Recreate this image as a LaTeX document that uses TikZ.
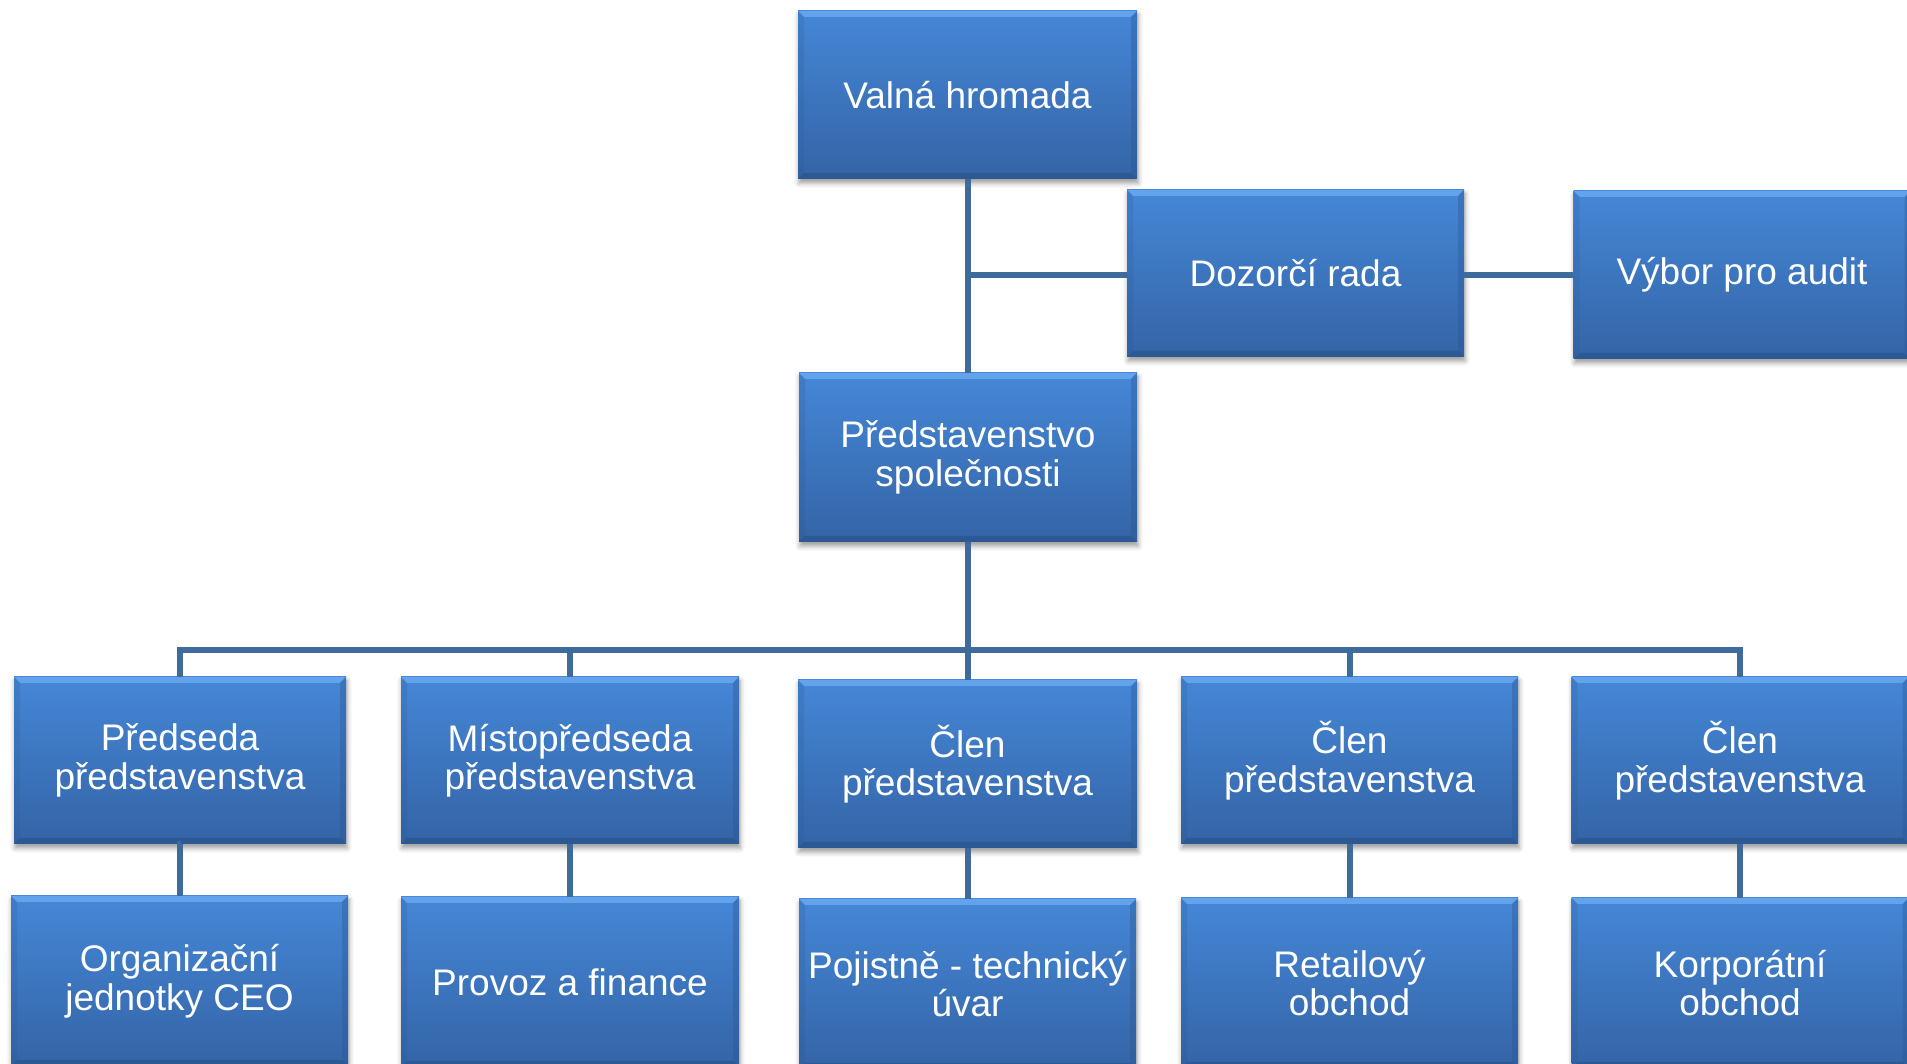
\documentclass[tikz,border=0pt]{standalone}
\usepackage{fontspec}
\setmainfont{Liberation Sans}
\usetikzlibrary{shadows.blur,calc}
\definecolor{boxtop}{HTML}{4587D7}
\definecolor{boxbot}{HTML}{3464A6}
\definecolor{bevlight}{HTML}{63A3EC}
\definecolor{bevdark}{HTML}{2A5590}
\definecolor{connclr}{HTML}{3F6A9C}
\tikzset{
  orgbox/.style={rectangle, inner sep=0pt, align=center, text=white,
    font=\fontsize{37}{38.5}\selectfont,
    top color=boxtop, bottom color=boxbot,
    blur shadow={shadow xshift=1pt, shadow yshift=-4pt, shadow blur radius=5pt, shadow opacity=40},
    path picture={
      \fill[bevlight] (path picture bounding box.north west) -- (path picture bounding box.north east)
        -- ([shift={(-6pt,-6pt)}]path picture bounding box.north east)
        -- ([shift={(6pt,-6pt)}]path picture bounding box.north west) -- cycle;
      \fill[bevdark, opacity=0.8] (path picture bounding box.south west) -- (path picture bounding box.south east)
        -- ([shift={(-6pt,6pt)}]path picture bounding box.south east)
        -- ([shift={(6pt,6pt)}]path picture bounding box.south west) -- cycle;
      \fill[bevdark, opacity=0.35] (path picture bounding box.north east) -- (path picture bounding box.south east)
        -- ([shift={(-6pt,6pt)}]path picture bounding box.south east)
        -- ([shift={(-6pt,-6pt)}]path picture bounding box.north east) -- cycle;
      \fill[bevdark, opacity=0.2] (path picture bounding box.north west) -- (path picture bounding box.south west)
        -- ([shift={(6pt,6pt)}]path picture bounding box.south west)
        -- ([shift={(6pt,-6pt)}]path picture bounding box.north west) -- cycle;
    }},
  conn/.style={draw=connclr, line width=6pt, line join=miter}
}
\begin{document}
\begin{tikzpicture}[x=1pt,y=1pt]
\useasboundingbox (0,0) rectangle (1907,1064);
\clip (0,0) rectangle (1907,1064);
% top
\node[orgbox, minimum width=339pt, minimum height=168pt] (va) at (967.5,969) {Valná hromada};
\node[orgbox, minimum width=337pt, minimum height=167pt] (dz) at (1295.5,790.5) {Dozorčí rada};
\node[orgbox, minimum width=337pt, minimum height=168pt] (vy) at (1742,789) {Výbor pro audit};
\node[orgbox, minimum width=338pt, minimum height=169pt] (pr) at (968,606.5) {Představenstvo\\společnosti};
% row 1
\node[orgbox, minimum width=332pt, minimum height=167pt] (r1a) at (180,303.5) {Předseda\\představenstva};
\node[orgbox, minimum width=338pt, minimum height=167pt] (r1b) at (570,303.5) {Místopředseda\\představenstva};
\node[orgbox, minimum width=339pt, minimum height=168pt] (r1c) at (967.5,300) {Člen\\představenstva};
\node[orgbox, minimum width=337pt, minimum height=167pt] (r1d) at (1349.5,303.5) {Člen\\představenstva};
\node[orgbox, minimum width=337pt, minimum height=167pt] (r1e) at (1740,303.5) {Člen\\představenstva};
% row 2
\node[orgbox, minimum width=337pt, minimum height=170pt] (r2a) at (179.5,83) {Organizační\\jednotky CEO};
\node[orgbox, minimum width=338pt, minimum height=170pt] (r2b) at (570,82) {Provoz a finance};
\node[orgbox, minimum width=337pt, minimum height=170pt] (r2c) at (967.5,80) {Pojistně - technický\\úvar};
\node[orgbox, minimum width=337pt, minimum height=170pt] (r2d) at (1349.5,81) {Retailový\\obchod};
\node[orgbox, minimum width=337pt, minimum height=170pt] (r2e) at (1740,81) {Korporátní\\obchod};
% connectors
\coordinate (bar) at (968,414);
\coordinate (dzw) at ([yshift=-2pt]dz.west);
\coordinate (dze) at ([yshift=-2pt]dz.east);
\draw[conn] (va.south) -- (va.south |- pr.north);
\draw[conn] (va.south |- dzw) -- (dzw);
\draw[conn] (dze) -- (vy.west |- dze);
\draw[conn] (pr.south) -- (pr.south |- r1c.north);
\draw[conn] (r1a.north) -- (r1a.north |- bar) -- (r1e.north |- bar) -- (r1e.north);
\draw[conn] (r1b.north) -- (r1b.north |- bar);
\draw[conn] (r1d.north) -- (r1d.north |- bar);
\foreach \a/\b in {r1a/r2a, r1b/r2b, r1c/r2c, r1d/r2d, r1e/r2e}
  \draw[conn] (\a.south) -- (\a.south -| \b.north) -- (\b.north);
\end{tikzpicture}
\end{document}
